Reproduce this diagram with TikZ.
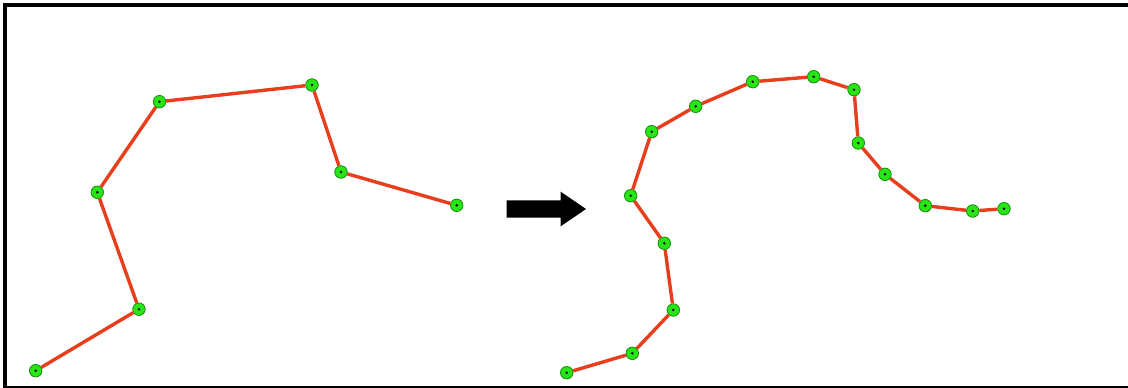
\documentclass[tikz,border=0pt]{standalone}
\usepackage{tikz}
\usetikzlibrary{arrows.meta}
\usetikzlibrary{positioning}
\definecolor{segred}{RGB}{232,62,28}
\definecolor{ptgreen}{RGB}{38,230,22}
\definecolor{ptedge}{RGB}{22,140,12}
\tikzset{
  % Vertices of the polylines
  pt/.style={circle, draw=ptedge, fill=ptgreen, line width=0.8pt,
             minimum size=12.5pt, inner sep=0pt,
             path picture={\fill[black] (path picture bounding box.center) circle (1.4pt);}},
  seg/.style={draw=segred, line width=3.4pt, line join=round},
  frame/.style={draw=black, line width=4pt}
}
\begin{document}
\begin{tikzpicture}[x=1pt, y=-1pt]
\useasboundingbox (0,0) rectangle (1128,388);

% Outer frame (open on the right)
\draw[frame] (1128,4.7) -- (5.3,4.7) -- (5.3,388) -- (1128,388);

% Coarse polyline
\node[pt] (l1) at (35.7,370.7) {};
\node[pt] (l2) at (139,309.2) {};
\node[pt] (l3) at (97.3,192.3) {};
\node[pt] (l4) at (159.5,101.7) {};
\node[pt] (l5) at (312,85) {};
\node[pt] (l6) at (341,172) {};
\node[pt] (l7) at (456.7,205.3) {};

\draw[seg] (l1) -- (l2) -- (l3) -- (l4) -- (l5) -- (l6) -- (l7);

% Refinement arrow
\fill[black] (506.7,200.3) -- (560.7,200.3) -- (560.7,191.7) -- (586,209)
  -- (560.7,226.3) -- (560.7,217.7) -- (506.7,217.7) -- cycle;

% Refined polyline
\node[pt] (r1) at (566.7,372.7) {};
\node[pt] (r2) at (632.3,353.3) {};
\node[pt] (r3) at (673.3,310) {};
\node[pt] (r4) at (664.3,243.3) {};
\node[pt] (r5) at (630.7,195.7) {};
\node[pt] (r6) at (651.7,131.7) {};
\node[pt] (r7) at (695.7,106.3) {};
\node[pt] (r8) at (752.7,81.7) {};
\node[pt] (r9) at (813.7,76.7) {};
\node[pt] (r10) at (854,89.7) {};
\node[pt] (r11) at (858.3,143) {};
\node[pt] (r12) at (885,174.3) {};
\node[pt] (r13) at (925.3,205.7) {};
\node[pt] (r14) at (972.7,211) {};
\node[pt] (r15) at (1004,208.7) {};

\draw[seg] (r1) -- (r2) -- (r3) -- (r4) -- (r5) -- (r6) -- (r7) -- (r8)
  -- (r9) -- (r10) -- (r11) -- (r12) -- (r13) -- (r14) -- (r15);

\end{tikzpicture}
\end{document}
